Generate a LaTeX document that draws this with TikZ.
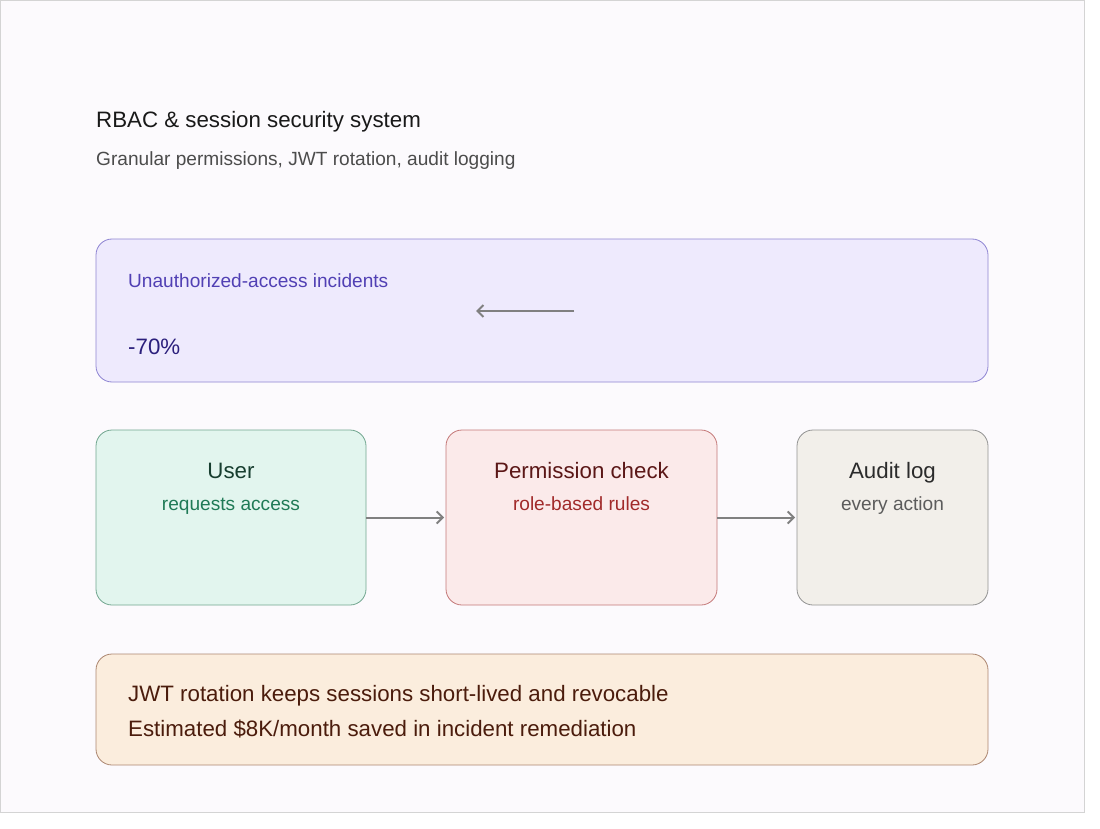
\documentclass[tikz,border=0pt]{standalone}
\usepackage{fontspec}
\setmainfont{Liberation Sans}
\usetikzlibrary{arrows.meta,positioning}

\definecolor{pagebg}{HTML}{FCFAFD}
\definecolor{pageline}{HTML}{D4D4D4}
\definecolor{kpifill}{HTML}{EEEAFD}
\definecolor{kpiline}{HTML}{8E84D2}
\definecolor{kpitext}{HTML}{5140B4}
\definecolor{kpinum}{HTML}{2B1F7C}
\definecolor{userfill}{HTML}{E2F5EE}
\definecolor{userline}{HTML}{71A68F}
\definecolor{usertitle}{HTML}{173E2F}
\definecolor{usersub}{HTML}{1F7A56}
\definecolor{permfill}{HTML}{FBEAEA}
\definecolor{permline}{HTML}{C47878}
\definecolor{permtitle}{HTML}{5B1717}
\definecolor{permsub}{HTML}{A12A2A}
\definecolor{auditfill}{HTML}{F2EFEA}
\definecolor{auditline}{HTML}{929292}
\definecolor{audittitle}{HTML}{2B2B2B}
\definecolor{auditsub}{HTML}{5C5C5C}
\definecolor{notefill}{HTML}{FBEDDD}
\definecolor{noteline}{HTML}{AC8670}
\definecolor{notetext}{HTML}{4B1C0C}
\definecolor{arrowgray}{HTML}{808080}

\tikzset{
  panel/.style={draw, line width=0.8pt, rounded corners=16pt, inner sep=0pt},
  label/.style={inner sep=0pt, anchor=base west},
  big/.style={font=\fontsize{22.3}{26}\selectfont},
  small/.style={font=\fontsize{19.1}{22}\selectfont},
  flow/.style={draw=arrowgray, line width=2pt, -{Straight Barb[length=6pt,width=12pt]}}
}

\begin{document}
\begin{tikzpicture}
          [x=1pt,y=-1pt]
          \useasboundingbox (0,0) rectangle (1100,829);
          \draw[fill=pagebg, draw=pageline, line width=1pt] (0.5,0.5) rectangle (1084,812);

          % heading
          \node[label, big, text=black!90] (title) at (96,128) {RBAC \& session security system};
          \node[label, small, text=black!70] (subtitle) at (96,166) {Granular permissions, JWT rotation, audit logging};

          % kpi panel
          \node[panel, fill=kpifill, draw=kpiline, minimum width=892pt, minimum height=143pt] (kpi) at (542,310.5) {};
          \node[label, small, text=kpitext] (kpilabel) at (128,287) {Unauthorized-access incidents};
          \node[label, big, text=kpinum] (kpivalue) at (128,354) {-70\%};
          \coordinate (kpifrom) at (574,311);
          \coordinate (kpito) at (476,311);
          \draw[flow] (kpifrom) -- (kpito);

          % flow boxes
          \node[panel, fill=userfill, draw=userline, minimum width=270pt, minimum height=175pt] (user) at (231,517.5) {};
          \node[panel, fill=permfill, draw=permline, minimum width=271pt, minimum height=175pt] (perm) at (581.5,517.5) {};
          \node[panel, fill=auditfill, draw=auditline, minimum width=191pt, minimum height=175pt] (audit) at (892.5,517.5) {};

          \node[inner sep=0pt, anchor=base, big, text=usertitle] (usertitle) at (231,478) {User};
          \node[inner sep=0pt, anchor=base, small, text=usersub] (usersub) at (231,510) {requests access};
          \node[inner sep=0pt, anchor=base, big, text=permtitle] (permtitle) at (581.5,478) {Permission check};
          \node[inner sep=0pt, anchor=base, small, text=permsub] (permsub) at (581.5,510) {role-based rules};
          \node[inner sep=0pt, anchor=base, big, text=audittitle] (audittitle) at (892.5,478) {Audit log};
          \node[inner sep=0pt, anchor=base, small, text=auditsub] (auditsub) at (892.5,510) {every action};

          \foreach \from/\to in {user/perm,perm/audit}
            \draw[flow] (\from.east) -- ([xshift=-1.5pt]\to.west);

          % note panel
          \node[panel, fill=notefill, draw=noteline, minimum width=892pt, minimum height=111pt] (note) at (542,709.5) {};
          \node[label, big, text=notetext] (noteone) at (128,701) {JWT rotation keeps sessions short-lived and revocable};
          \node[label, big, text=notetext] (notetwo) at (128,736) {Estimated \$8K/month saved in incident remediation};
        \end{tikzpicture}
\end{document}
